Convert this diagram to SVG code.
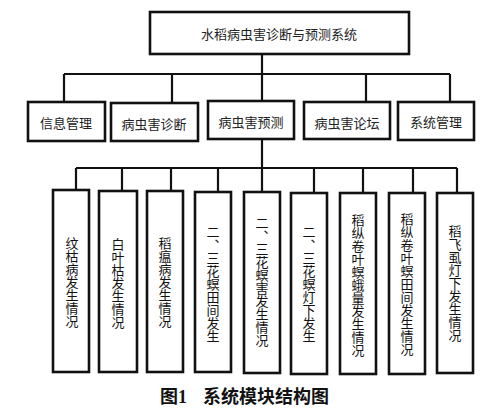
<svg xmlns="http://www.w3.org/2000/svg" width="500" height="410" viewBox="0 0 500 410">
<style>
.box{fill:#fff;stroke:#111;stroke-width:2.6}
.ln{stroke:#111;stroke-width:2.2;fill:none}
.t{font-family:"Noto Sans CJK SC","Noto Sans",sans-serif;font-size:13px;fill:#222;text-anchor:middle;dominant-baseline:central}
.v{font-family:"Noto Sans CJK SC","Noto Sans",sans-serif;font-size:13px;fill:#111;text-anchor:middle;writing-mode:vertical-rl;dominant-baseline:central}
.cap{font-family:"Liberation Serif","Noto Sans CJK SC",serif;font-size:18px;font-weight:bold;fill:#111;dominant-baseline:central}
</style>
<rect width="500" height="410" fill="#fff"/>
<g id="connectors">
<path class="ln" d="M262 54V74M64 74H450M64 74V102M172 74V102M262 74V101M366 74V102M450 74V102"/>
<path class="ln" d="M262 139V168M76 168H457M76 168V191M122 168V191M171 168V191M218 168V192M262 168V192M314 168V193M363 168V193M413 168V193M457 168V193"/>
</g>
<g id="root"><rect class="box" x="150" y="12" width="259" height="42"/><text class="t" x="279" y="33">水稻病虫害诊断与预测系统</text></g>
<g id="n1"><rect class="box" x="28" y="102" width="77" height="39"/><text class="t" x="66" y="122">信息管理</text></g>
<g id="n2"><rect class="box" x="111" y="103" width="87" height="38"/><text class="t" x="154" y="123">病虫害诊断</text></g>
<g id="n3"><rect class="box" x="208" y="101" width="86" height="38"/><text class="t" x="251" y="121">病虫害预测</text></g>
<g id="n4"><rect class="box" x="304" y="102" width="86" height="37"/><text class="t" x="347" y="122">病虫害论坛</text></g>
<g id="n5"><rect class="box" x="398" y="102" width="76" height="38"/><text class="t" x="436" y="121">系统管理</text></g>
<g id="b1"><rect class="box" x="53" y="190" width="36" height="182"/><text class="v" x="72" y="282">纹枯病发生情况</text></g>
<g id="b2"><rect class="box" x="99" y="191" width="38" height="181"/><text class="v" x="118" y="283">白叶枯发生情况</text></g>
<g id="b3"><rect class="box" x="147" y="191" width="36" height="181"/><text class="v" x="165" y="282">稻瘟病发生情况</text></g>
<g id="b4"><rect class="box" x="195" y="192" width="36" height="180"/><text class="v" x="213" y="284">二、三花螟田间发生</text></g>
<g id="b5"><rect class="box" x="244" y="192" width="36" height="181"/><text class="v" x="262" y="282">二、三花螟害发生情况</text></g>
<g id="b6"><rect class="box" x="291" y="193" width="36" height="181"/><text class="v" x="309" y="284">二、三花螟灯下发生</text></g>
<g id="b7"><rect class="box" x="340" y="193" width="36" height="181"/><text class="v" x="358" y="285">稻纵卷叶螟蛾量发生情况</text></g>
<g id="b8"><rect class="box" x="389" y="193" width="36" height="181"/><text class="v" x="407" y="284">稻纵卷叶螟田间发生情况</text></g>
<g id="b9"><rect class="box" x="437" y="193" width="36" height="180"/><text class="v" x="455" y="283">稻飞虱灯下发生情况</text></g>
<text class="cap" y="397"><tspan x="160">图1</tspan> <tspan x="203">系统模块结构图</tspan></text>
</svg>
